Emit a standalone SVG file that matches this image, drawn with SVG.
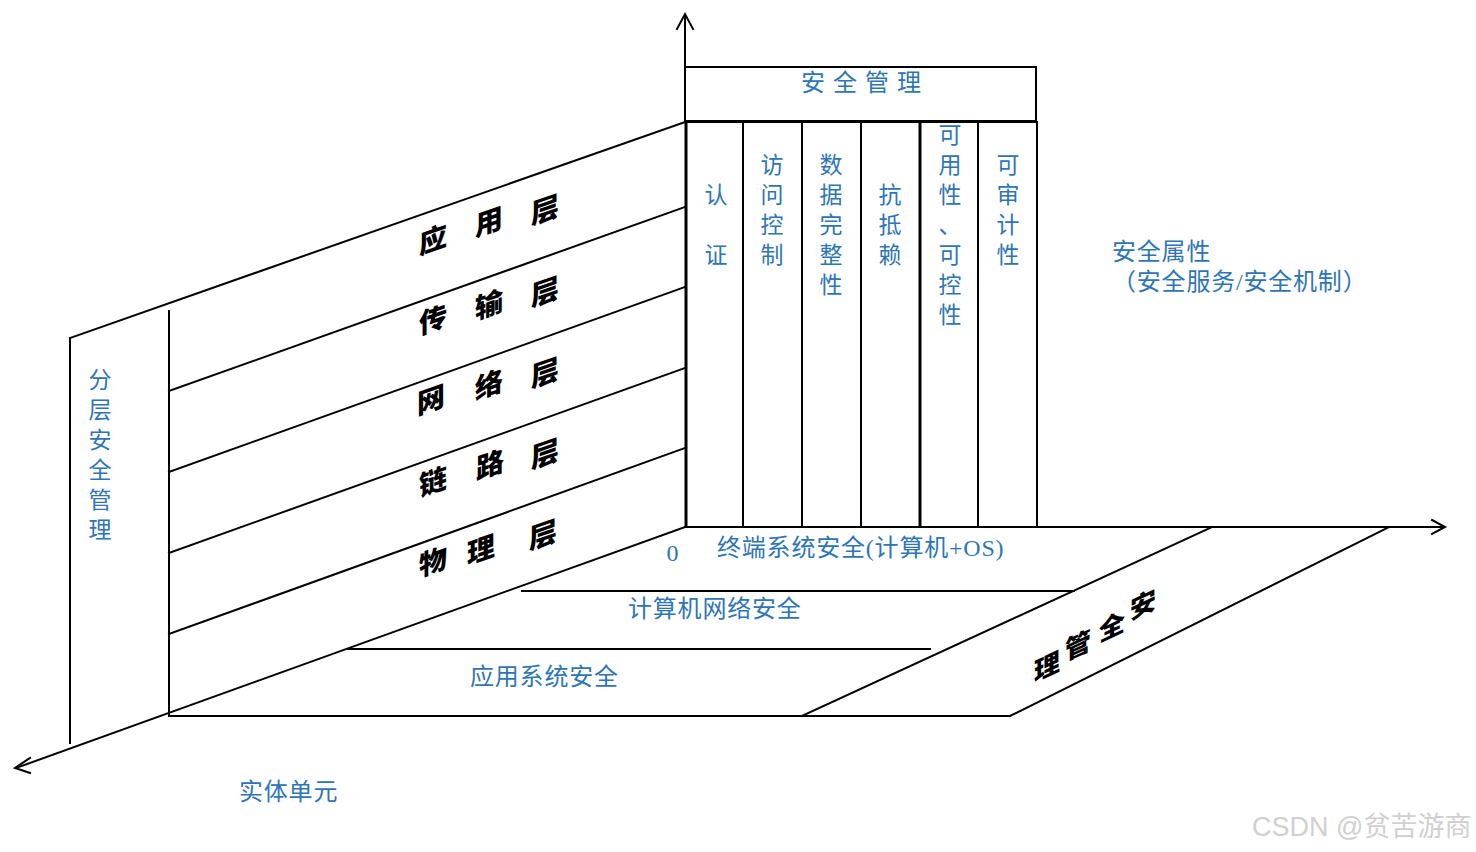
<svg xmlns="http://www.w3.org/2000/svg" width="1476" height="852" viewBox="0 0 1476 852">
<style>
.ln{stroke:#000;stroke-width:2;fill:none;stroke-linecap:square}
.thk{stroke:#000;stroke-width:3;fill:none}
.bl{fill:#2E75B6;font-family:"Liberation Serif","Noto Sans CJK SC",serif;font-size:24px;letter-spacing:0.8px}
.blc{fill:#2E75B6;font-family:"Liberation Serif","Noto Sans CJK SC",serif;font-size:23px;text-anchor:middle}
.lay{fill:#000;font-family:"Noto Sans CJK SC",sans-serif;font-size:28px;font-weight:900;text-anchor:middle}
.mg{fill:#000;font-family:"Noto Sans CJK SC",sans-serif;font-size:26px;font-weight:900;text-anchor:middle}
.wm{fill:#d0d0d0;font-family:"Liberation Sans","Noto Sans CJK SC",sans-serif;font-size:27px}
</style>
<rect width="1476" height="852" fill="#fff"/>
<g id="connectors">
  <line class="ln" x1="685" y1="122" x2="685" y2="15"/>
  <polyline class="ln" points="677,29 685,14 693,29"/>
  <line class="ln" x1="685" y1="527" x2="1444" y2="527"/>
  <polyline class="ln" points="1432,520 1445,527 1432,534"/>
  <line class="ln" x1="685" y1="527" x2="16" y2="768"/>
  <polyline class="ln" points="30,758 15,768 30,773"/>
</g>
<g id="wall">
  <line class="ln" x1="685" y1="122" x2="70" y2="338"/>
  <line class="ln" x1="70" y1="338" x2="70" y2="743"/>
  <line class="ln" x1="169" y1="311" x2="169" y2="715"/>
  <line class="ln" x1="169" y1="391" x2="685" y2="207"/>
  <line class="ln" x1="169" y1="472" x2="685" y2="287"/>
  <line class="ln" x1="169" y1="553" x2="685" y2="368"/>
  <line class="ln" x1="169" y1="634" x2="685" y2="448"/>
</g>
<g id="floor">
  <line class="ln" x1="169" y1="716" x2="1010" y2="716"/>
  <line class="ln" x1="802" y1="716" x2="1212" y2="527"/>
  <line class="ln" x1="1010" y1="716" x2="1389" y2="527"/>
  <line class="ln" x1="522" y1="591" x2="1074" y2="591"/>
  <line class="ln" x1="348" y1="649" x2="930" y2="649"/>
</g>
<g id="mgmt-box">
  <rect class="ln" x="685" y="67" width="351" height="54"/>
  <text class="bl" x="865" y="91" text-anchor="middle" style="letter-spacing:8px">安全管理</text>
</g>
<g id="columns">
  <line class="thk" x1="686" y1="121" x2="686" y2="527"/>
  <line class="ln" x1="685" y1="122" x2="1037" y2="122"/>
  <line class="ln" x1="743" y1="122" x2="743" y2="527"/>
  <line class="ln" x1="802" y1="122" x2="802" y2="527"/>
  <line class="ln" x1="861" y1="122" x2="861" y2="527"/>
  <line class="thk" x1="920" y1="122" x2="920" y2="527"/>
  <line class="ln" x1="978" y1="122" x2="978" y2="527"/>
  <line class="ln" x1="1037" y1="122" x2="1037" y2="527"/>
</g>
<g id="col-auth"><text class="blc" x="716" y="203">认</text><text class="blc" x="716" y="263">证</text></g>
<g id="col-access"><text class="blc" x="772" y="173">访</text><text class="blc" x="772" y="203">问</text><text class="blc" x="772" y="233">控</text><text class="blc" x="772" y="263">制</text></g>
<g id="col-integrity"><text class="blc" x="831" y="173">数</text><text class="blc" x="831" y="203">据</text><text class="blc" x="831" y="233">完</text><text class="blc" x="831" y="263">整</text><text class="blc" x="831" y="293">性</text></g>
<g id="col-nonrep"><text class="blc" x="890" y="203">抗</text><text class="blc" x="890" y="233">抵</text><text class="blc" x="890" y="263">赖</text></g>
<g id="col-avail"><text class="blc" x="950" y="143">可</text><text class="blc" x="950" y="173">用</text><text class="blc" x="950" y="203">性</text><text class="blc" x="950" y="233">、</text><text class="blc" x="950" y="263">可</text><text class="blc" x="950" y="293">控</text><text class="blc" x="950" y="323">性</text></g>
<g id="col-audit"><text class="blc" x="1008" y="173">可</text><text class="blc" x="1008" y="203">审</text><text class="blc" x="1008" y="233">计</text><text class="blc" x="1008" y="263">性</text></g>
<g id="layers">
  <text class="lay" transform="translate(433,250) skewY(-19)">应</text>
  <text class="lay" transform="translate(489,232) skewY(-19)">用</text>
  <text class="lay" transform="translate(545,220) skewY(-19)">层</text>
  <text class="lay" transform="translate(433,330) skewY(-19)">传</text>
  <text class="lay" transform="translate(489,315) skewY(-19)">输</text>
  <text class="lay" transform="translate(545,302) skewY(-19)">层</text>
  <text class="lay" transform="translate(431,410) skewY(-19)">网</text>
  <text class="lay" transform="translate(489,395) skewY(-19)">络</text>
  <text class="lay" transform="translate(545,383) skewY(-19)">层</text>
  <text class="lay" transform="translate(433,492) skewY(-19)">链</text>
  <text class="lay" transform="translate(490,475) skewY(-19)">路</text>
  <text class="lay" transform="translate(545,464) skewY(-19)">层</text>
  <text class="lay" transform="translate(433,572) skewY(-19)">物</text>
  <text class="lay" transform="translate(481,560) skewY(-19)">理</text>
  <text class="lay" transform="translate(543,545) skewY(-19)">层</text>
</g>
<g id="side-mgmt">
  <text class="mg" transform="translate(1047,676) skewY(-25)">理</text>
  <text class="mg" transform="translate(1078,655) skewY(-25)">管</text>
  <text class="mg" transform="translate(1112,636) skewY(-25)">全</text>
  <text class="mg" transform="translate(1143,614) skewY(-25)">安</text>
</g>
<g id="layered-mgmt">
  <text class="blc" x="100" y="388">分</text><text class="blc" x="100" y="418">层</text><text class="blc" x="100" y="448">安</text><text class="blc" x="100" y="478">全</text><text class="blc" x="100" y="508">管</text><text class="blc" x="100" y="538">理</text>
</g>
<g id="labels">
  <text class="bl" x="673" y="561" text-anchor="middle" font-size="22">0</text>
  <text class="bl" x="717" y="556">终端系统安全(计算机+OS)</text>
  <text class="bl" x="628" y="617">计算机网络安全</text>
  <text class="bl" x="470" y="685">应用系统安全</text>
  <text class="bl" x="239" y="800">实体单元</text>
  <text class="bl" x="1112" y="260">安全属性</text>
  <text class="bl" x="1112" y="290">（安全服务/安全机制）</text>
</g>
<text class="wm" x="1252" y="836">CSDN @贫苦游商</text>
</svg>
